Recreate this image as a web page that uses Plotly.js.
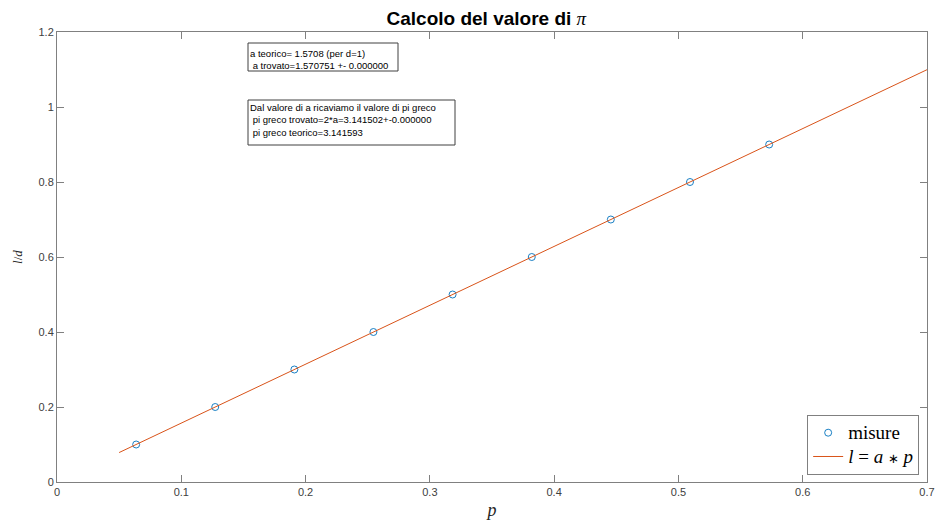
<!DOCTYPE html>
<html>
<head>
<meta charset="utf-8">
<script src="https://cdn.plot.ly/plotly-3.0.1.min.js"></script>
<style>html,body{margin:0;padding:0;background:#fff;}#chart{width:937px;height:523px;}</style>
</head>
<body>
<div id="chart"></div>
<script>
// Measured points: p (x) and l/d (y)
const pValues = [0.0637, 0.1273, 0.1910, 0.2546, 0.3183, 0.3820, 0.4456, 0.5093, 0.5730];
const ldValues = [0.1, 0.2, 0.3, 0.4, 0.5, 0.6, 0.7, 0.8, 0.9];
// Fitted line l = a*p endpoints
const fitP = [0.05, 0.70];
const fitL = [0.0785, 1.0995];
const xTicks = [0, 0.1, 0.2, 0.3, 0.4, 0.5, 0.6, 0.7];
const yTicks = [0, 0.2, 0.4, 0.6, 0.8, 1, 1.2];
const note1 = ["a teorico= 1.5708 (per d=1)", " a trovato=1.570751 +- 0.000000"];
const note2 = ["Dal valore di a ricaviamo il valore di pi greco", " pi greco trovato=2*a=3.141502+-0.000000", " pi greco teorico=3.141593"];

const axisColor = '#808080';
const tickFont = {family: 'Liberation Sans, Arial, sans-serif', size: 11, color: '#404040'};
const noteFont = {family: 'Liberation Sans, Arial, sans-serif', size: 9.5, color: '#000'};

// plot-area helpers (paper fractions) for the text boxes
const PL = 57, PW = 870, PB = 482, PH = 450;
const px = v => (v - PL) / PW;
const py = v => (PB - v) / PH;

const big = s => '<span style="font-size:19px">' + s + '</span>';

const traces = [
  {
    x: pValues, y: ldValues, type: 'scatter', mode: 'markers', name: big('misure'),
    marker: {symbol: 'circle-open', size: 7, color: '#0072BD', line: {width: 0.9, color: '#0072BD'}}
  },
  {
    x: fitP, y: fitL, type: 'scatter', mode: 'lines',
    name: big('<i>l</i> = <i>a</i> <span style="font-family:DejaVu Sans;font-size:13px">∗</span> <i>p</i>'),
    line: {color: '#D95319', width: 1}
  }
];

const fmt = lines => lines.map(t => t.replace(/^ /, '&nbsp;')).join('<br>');

const annotations = [
  {xref: 'paper', yref: 'paper', x: px(249), y: py(59.8), xanchor: 'left', yanchor: 'middle',
   text: fmt(note1), showarrow: false, align: 'left', font: noteFont, borderpad: 0},
  {xref: 'paper', yref: 'paper', x: px(249), y: py(120), xanchor: 'left', yanchor: 'middle',
   text: fmt(note2), showarrow: false, align: 'left', font: noteFont, borderpad: 0}
];

const shapes = [
  {type: 'rect', xref: 'paper', yref: 'paper', x0: px(248), x1: px(398), y0: py(71), y1: py(43),
   line: {color: '#404040', width: 1}, fillcolor: '#fff', layer: 'below'},
  {type: 'rect', xref: 'paper', yref: 'paper', x0: px(248), x1: px(455), y0: py(145), y1: py(100),
   line: {color: '#404040', width: 1}, fillcolor: '#fff', layer: 'below'}
];

const layout = {
  width: 937, height: 523,
  margin: {l: 57, r: 10, t: 32, b: 41},
  paper_bgcolor: '#fff', plot_bgcolor: '#fff',
  title: {
    text: '<b>Calcolo del valore di </b><span style="font-family:Liberation Serif,serif;font-style:italic;">π</span>',
    font: {family: 'Liberation Sans, Arial, sans-serif', size: 19, color: '#000'},
    x: 0.519, xanchor: 'center', y: 0.965, yanchor: 'middle'
  },
  xaxis: {
    range: [0, 0.7], tickvals: xTicks, ticks: 'inside', ticklen: 7, tickcolor: axisColor,
    showline: true, linecolor: axisColor, linewidth: 1, mirror: 'ticks', showgrid: false, zeroline: false,
    tickfont: tickFont,
    title: {text: '<i>p</i>', font: {family: 'Liberation Serif, serif', size: 18, color: '#262626'}, standoff: 6}
  },
  yaxis: {
    range: [0, 1.2], tickvals: yTicks, ticks: 'inside', ticklen: 7, tickcolor: axisColor,
    showline: true, linecolor: axisColor, linewidth: 1, mirror: 'ticks', showgrid: false, zeroline: false,
    tickfont: tickFont,
    title: {text: '<i>l</i>/<i>d</i>', font: {family: 'Liberation Serif, serif', size: 13, color: '#262626'}, standoff: 12}
  },
  showlegend: true,
  legend: {
    x: 0.991, y: 0.016, xanchor: 'right', yanchor: 'bottom',
    bgcolor: '#fff', bordercolor: '#808080', borderwidth: 1,
    font: {family: 'Liberation Serif, serif', size: 16, color: '#000'},
    itemwidth: 30, tracegroupgap: 0
  },
  shapes: shapes,
  annotations: annotations
};

Plotly.newPlot('chart', traces, layout, {displayModeBar: false, staticPlot: true});
</script>
</body>
</html>
